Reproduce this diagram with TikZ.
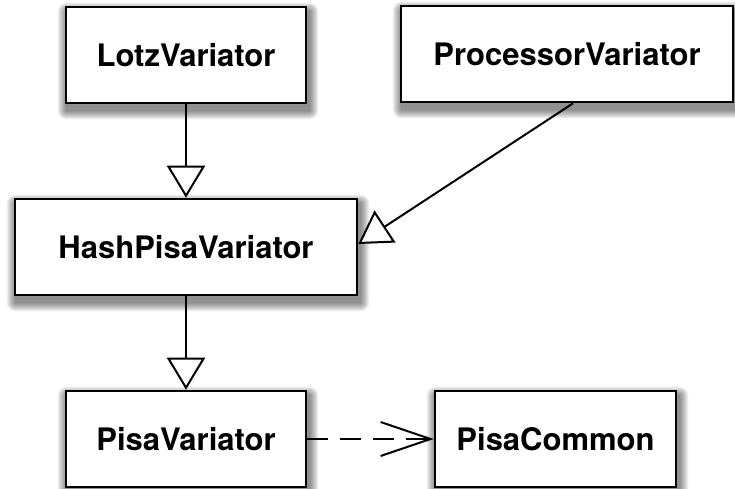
\documentclass[tikz,border=0pt]{standalone}
\usepackage{fontspec}
\setmainfont{TeX Gyre Heros}
\usetikzlibrary{arrows.meta}
\pgfdeclarelayer{background}
\pgfdeclarelayer{canvas}
\pgfsetlayers{canvas,background,main}
\tikzset{
  classbox/.style={draw=black, fill=white, line width=2.6pt, rectangle,
    minimum height=96pt, inner sep=0pt,
    font=\fontsize{31}{36}\selectfont\bfseries},
  inherit/.style={line width=2pt, -{Triangle[length=32pt,width=38pt,fill=white,line width=2pt]}},
  depend/.style={line width=2pt, dash pattern=on 21pt off 12pt,
    -{Straight Barb[length=50pt,width=34pt,line width=2pt]}},
}
\newcommand{\boxshadow}[1]{%
  \foreach \k in {1,...,9}{%
    \fill[black, opacity=0.06, rounded corners=\k*1pt]
      ([shift={(2pt-\k*1pt,-6pt-\k*1pt)}]#1.south west) rectangle
      ([shift={(2pt+\k*1pt,-6pt+\k*1pt)}]#1.north east);
  }}
\begin{document}
\begin{tikzpicture}[x=1pt,y=-1pt]
  \begin{pgfonlayer}{canvas}
    \fill[white] (0,0) rectangle (735,488);
  \end{pgfonlayer}
  \useasboundingbox (0,0) rectangle (735,488);
  \node[classbox, minimum width=240pt] (lotz) at (186,55) {LotzVariator};
  \node[classbox, minimum width=332pt] (proc) at (567,54) {ProcessorVariator};
  \node[classbox, minimum width=342pt] (hash) at (186,247) {HashPisaVariator};
  \node[classbox, minimum width=240pt] (pisa) at (186,439) {PisaVariator};
  \node[classbox, minimum width=241pt] (common) at (555.5,439) {PisaCommon};
  \begin{pgfonlayer}{background}
    \boxshadow{lotz}
    \boxshadow{proc}
    \boxshadow{hash}
    \boxshadow{pisa}
    \boxshadow{common}
  \end{pgfonlayer}
  \draw[inherit] (lotz.south) -- (hash.north);
  \draw[inherit] ([xshift=6pt]proc.south) -- ([yshift=3pt]hash.east);
  \draw[inherit] (hash.south) -- (pisa.north);
  \draw[depend] (pisa.east) -- (common.west);
\end{tikzpicture}
\end{document}
